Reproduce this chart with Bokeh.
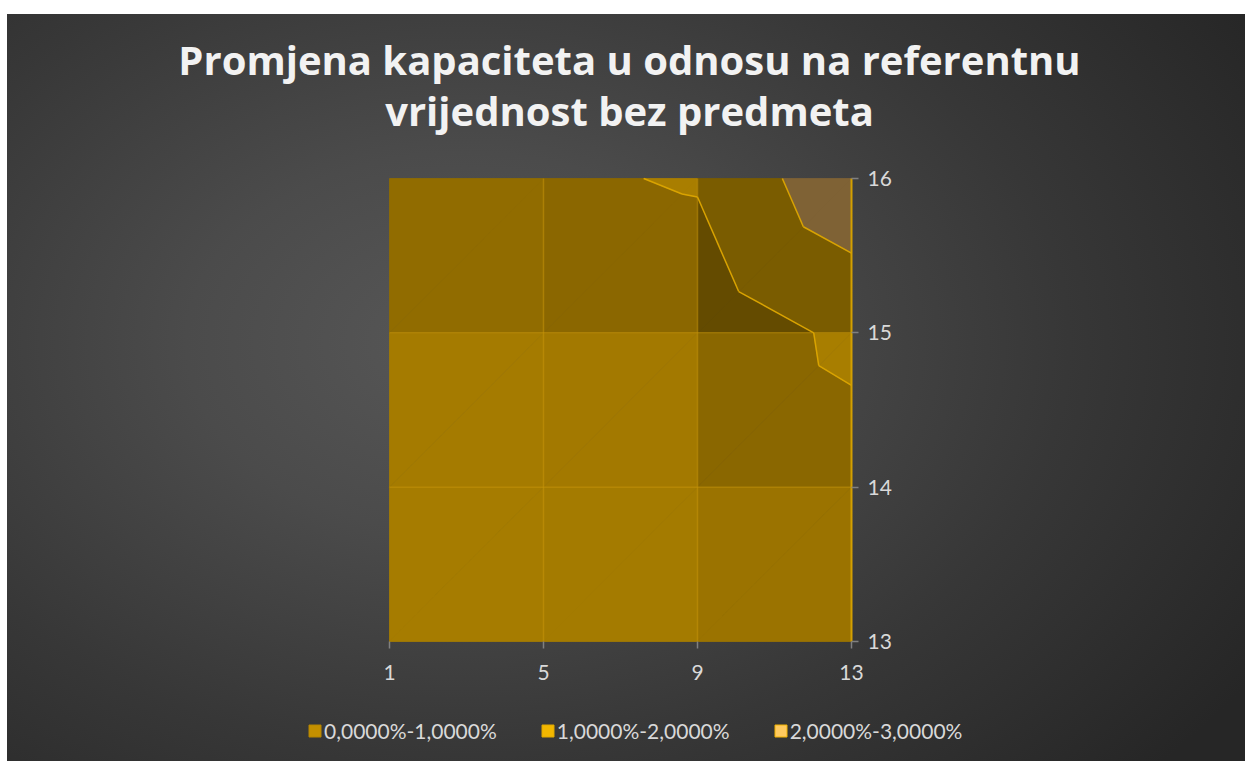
import math
from bokeh.plotting import figure
from bokeh.models import Range1d, FixedTicker, Label, Legend, LegendItem, Spacer
from bokeh.layouts import column, row
from bokeh.embed import file_html
from bokeh.resources import INLINE

# ---------------- data ----------------
title_lines = ["Promjena kapaciteta u odnosu na referentnu", "vrijednost bez predmeta"]
x_values = [1, 5, 9, 13]
y_values = [13, 14, 15, 16]
# change of capacity in %, one row per y value (13..16), one column per x value
z_row_13 = [0.02, 0.04, 0.06, 0.10]
z_row_14 = [0.05, 0.08, 0.233, 0.598]
z_row_15 = [0.12, 0.22, 0.363, 1.207]
z_row_16 = [0.60, 0.838, 1.087, 2.744]
band_edges = [0.0, 1.0, 2.0, 3.0]
band_labels = ["0,0000%-1,0000%", "1,0000%-2,0000%", "2,0000%-3,0000%"]

# ---------------- styles / layout ----------------
band_rgb = [(193, 144, 0), (235, 176, 0), (245, 189, 102)]
legend_fill = ["#C49000", "#F2B700", "#FFCA5F"]
legend_line = ["#B58500", "#E0A800", "#F2B200"]
FONT = "Lato"
TXT = "#D9D9D9"

W, H = 1238, 747
# pixel box of the surface inside the canvas
PL, PR, PT, PB = 382, 844, 164, 627

Z = [z_row_13, z_row_14, z_row_15, z_row_16]

# the whole canvas is the frame; the ranges put the surface at its pixel box
xs_per_px = (x_values[-1] - x_values[0]) / (PR - PL)
ys_per_px = (y_values[-1] - y_values[0]) / (PB - PT)
x_rng = Range1d(x_values[0] - PL * xs_per_px, x_values[-1] + (W - PR) * xs_per_px)
y_rng = Range1d(y_values[0] - (H - PB) * ys_per_px, y_values[-1] + PT * ys_per_px)

p = figure(width=W, height=H, output_backend="svg", toolbar_location=None,
           x_range=x_rng, y_range=y_rng, y_axis_location="right", title=None,
           min_border=0)
p.border_fill_color = None
p.background_fill_color = None
p.outline_line_color = None
p.grid.visible = False
p.styles = {"background-image":
            "radial-gradient(ellipse 75% 85% at 37% 44%, #575757 0%, #4b4b4b 30%, #373737 65%, #262626 100%)"}


def shade_of_cell(i, j):
    dzdx = ((Z[j][i + 1] - Z[j][i]) + (Z[j + 1][i + 1] - Z[j + 1][i])) / 2.0
    dzdy = ((Z[j + 1][i] - Z[j][i]) + (Z[j + 1][i + 1] - Z[j][i + 1])) / 2.0
    g = math.hypot(dzdx, dzdy)
    return 0.86 * (1.0 + (1.42 * g) ** 2) ** (-0.2636)


def clip_half(pts, level, keep_above):
    out = []
    n = len(pts)
    for k in range(n):
        a = pts[k]
        b = pts[(k + 1) % n]
        ina = a[2] >= level if keep_above else a[2] <= level
        inb = b[2] >= level if keep_above else b[2] <= level
        if ina:
            out.append(a)
        if ina != inb:
            tt = (level - a[2]) / (b[2] - a[2])
            out.append((a[0] + tt * (b[0] - a[0]), a[1] + tt * (b[1] - a[1]), level))
    return out


def hexcol(rgb, s):
    return "#%02x%02x%02x" % tuple(max(0, min(255, int(round(c * s)))) for c in rgb)


pxs, pys, pcols = [], [], []
cx, cy = [], []
for j in range(len(y_values) - 1):
    for i in range(len(x_values) - 1):
        x0, x1 = x_values[i], x_values[i + 1]
        y0, y1 = y_values[j], y_values[j + 1]
        A = (x0, y0, Z[j][i])
        B = (x1, y0, Z[j][i + 1])
        C = (x1, y1, Z[j + 1][i + 1])
        D = (x0, y1, Z[j + 1][i])
        s = shade_of_cell(i, j)
        for tri in ([A, D, C], [A, B, C]):
            for b in range(len(band_labels)):
                poly = clip_half(tri, band_edges[b], True)
                if len(poly) >= 3:
                    poly = clip_half(poly, band_edges[b + 1], False)
                if len(poly) >= 3:
                    pxs.append([q[0] for q in poly])
                    pys.append([q[1] for q in poly])
                    pcols.append(hexcol(band_rgb[b], s))
            for lev in band_edges[1:-1]:
                pts = []
                for k in range(3):
                    a, c = tri[k], tri[(k + 1) % 3]
                    if (a[2] - lev) * (c[2] - lev) < 0:
                        tt = (lev - a[2]) / (c[2] - a[2])
                        pts.append((a[0] + tt * (c[0] - a[0]), a[1] + tt * (c[1] - a[1])))
                if len(pts) == 2:
                    cx.append([pts[0][0], pts[1][0]])
                    cy.append([pts[0][1], pts[1][1]])

p.patches(pxs, pys, fill_color=pcols, line_color=pcols, line_width=0.8)

# wireframe lines of the surface
gx, gy = [], []
for xv in x_values[1:-1]:
    gx.append([xv, xv]); gy.append([y_values[0], y_values[-1]])
for yv in y_values[1:-1]:
    gx.append([x_values[0], x_values[-1]]); gy.append([yv, yv])
p.multi_line(gx, gy, line_color="#C8960A", line_alpha=0.55, line_width=1.5)
p.multi_line(cx, cy, line_color="#D9A300", line_width=1.5)
p.line([x_values[-1], x_values[-1]], [y_values[0], y_values[-1]], line_color="#D4A000", line_width=2)

# axes pinned to the edges of the surface
p.xaxis[0].fixed_location = y_values[0]
p.yaxis[0].fixed_location = x_values[-1]
for ax in (p.xaxis[0], p.yaxis[0]):
    ax.axis_line_color = None
    ax.major_tick_line_color = "#808080"
    ax.major_tick_line_width = 1.5
    ax.major_tick_out = 7
    ax.major_tick_in = 0
    ax.minor_tick_line_color = None
    ax.major_label_text_color = TXT
    ax.major_label_text_font = FONT
    ax.major_label_text_font_size = "21px"
p.xaxis[0].ticker = FixedTicker(ticks=x_values)
p.yaxis[0].ticker = FixedTicker(ticks=y_values)
p.xaxis[0].major_label_standoff = 16
p.yaxis[0].major_label_standoff = 9

# title (screen px from the canvas bottom-left)
for txt, base in zip(title_lines, [H - 45, H - 96]):
    p.add_layout(Label(x=622, y=base, x_units="screen", y_units="screen", text=txt,
                       text_align="center", text_baseline="alphabetic",
                       text_font="Open Sans", text_font_style="bold",
                       text_font_size="40px", text_color="#F2F2F2"))

# legend (proxy glyphs hold no visible mark)
nan = float("nan")
items = []
for b in range(len(band_labels)):
    r = p.quad(left=[nan], right=[nan], top=[nan], bottom=[nan],
               fill_color=legend_fill[b], line_color=legend_line[b], line_width=1)
    items.append(LegendItem(label=band_labels[b], renderers=[r]))
lg = Legend(items=items, location=(300, 18), orientation="horizontal",
            padding=0, margin=0, spacing=43, label_standoff=2,
            glyph_width=15, glyph_height=15,
            border_line_color=None, background_fill_alpha=0,
            label_text_color=TXT, label_text_font=FONT,
            label_text_font_size="21px")
p.add_layout(lg)

layout = row(Spacer(width=7, height=H), column(Spacer(height=14, width=W), p))
open("out.html", "w").write(file_html(layout, INLINE))
